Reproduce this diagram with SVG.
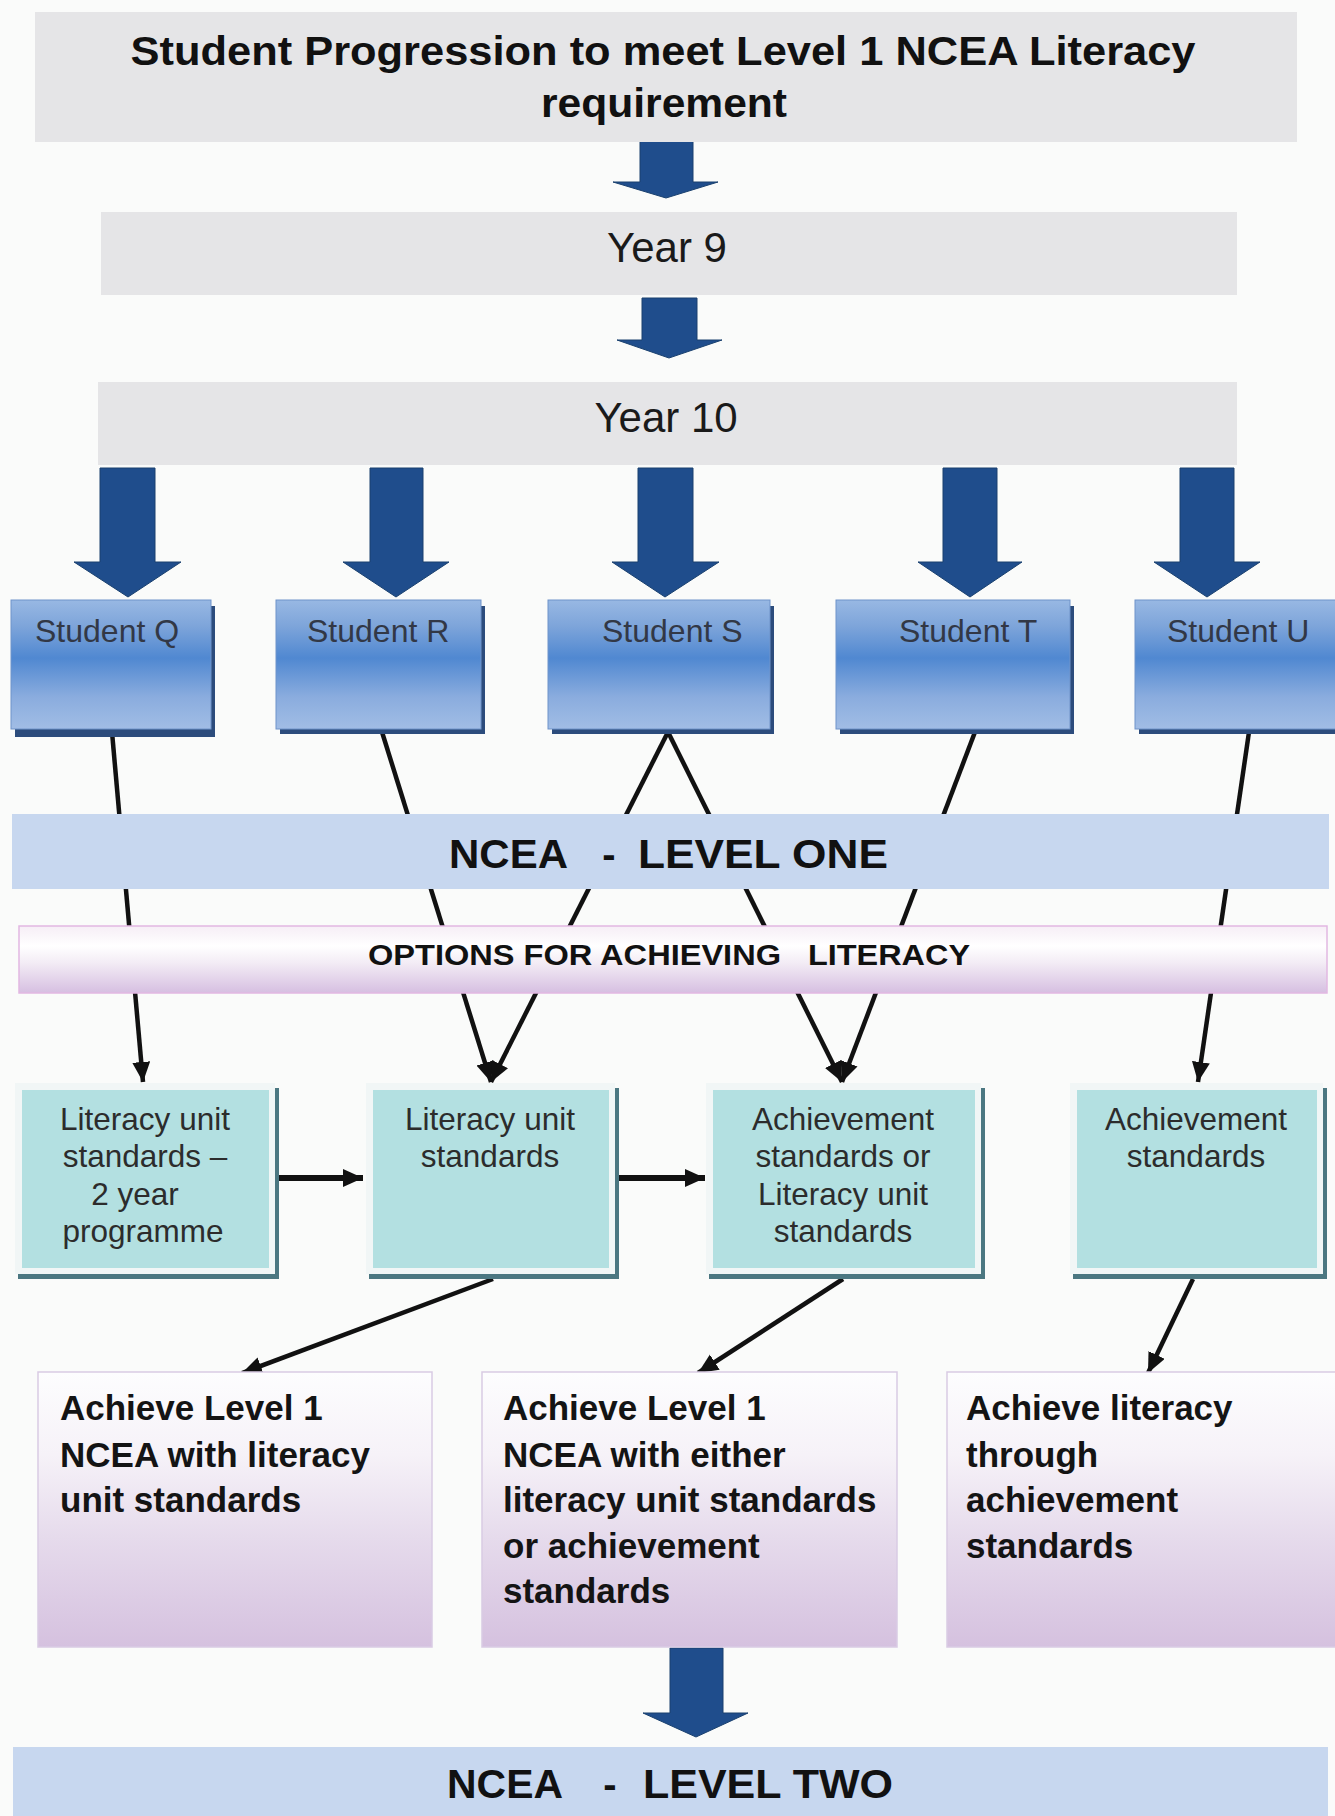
<svg xmlns="http://www.w3.org/2000/svg" width="1335" height="1816" viewBox="0 0 1335 1816">
  <style>
    .sans { font-family: "Liberation Sans", Arial, sans-serif; }
    .head { font-weight: bold; font-size: 40px; fill: #111; }
    .year { font-size: 42px; fill: #1a1a1a; }
    .stud { font-size: 32px; fill: #323846; }
    .band { font-weight: bold; font-size: 40px; fill: #111; }
    .opt { font-weight: bold; font-size: 29px; fill: #111; }
    .std { font-size: 31.5px; fill: #2c2c2c; text-anchor: middle; }
    .res { font-weight: bold; font-size: 35px; fill: #141414; }
    .grey { fill: #e5e5e7; }
    .big { fill: #1f4d8c; stroke: #1a416f; stroke-width: 1; }
    .link { fill: none; stroke: #111; stroke-width: 4.5; marker-end: url(#tip); }
    .link-h { fill: none; stroke: #111; stroke-width: 6; marker-end: url(#tip); }
    .lvl { fill: #c7d7ef; }
    .teal-shadow { fill: #4b7781; }
    .teal-frame { fill: #f1f6f6; }
    .teal { fill: #b3e0e1; }
    .stud-shadow { fill: #2c4c7c; }
    .stud-box { fill: url(#studGrad); stroke: #6f93c9; stroke-width: 1; }
    .res-box { fill: url(#resGrad); stroke: #d9cbe4; stroke-width: 1.5; }
  </style>
  <defs>
    <linearGradient id="studGrad" x1="0" y1="0" x2="0" y2="1">
      <stop offset="0" stop-color="#98b8e3"/>
      <stop offset="0.2" stop-color="#7ea5da"/>
      <stop offset="0.45" stop-color="#5088d1"/>
      <stop offset="0.75" stop-color="#8aacde"/>
      <stop offset="1" stop-color="#a1bde5"/>
    </linearGradient>
    <linearGradient id="optGrad" x1="0" y1="0" x2="0" y2="1">
      <stop offset="0" stop-color="#f6eef6"/>
      <stop offset="0.3" stop-color="#ffffff"/>
      <stop offset="0.55" stop-color="#f3ecf5"/>
      <stop offset="1" stop-color="#d6bfe1"/>
    </linearGradient>
    <linearGradient id="resGrad" x1="0" y1="0" x2="0" y2="1">
      <stop offset="0" stop-color="#fdfdfe"/>
      <stop offset="0.3" stop-color="#f6f2f8"/>
      <stop offset="0.6" stop-color="#e6dbec"/>
      <stop offset="1" stop-color="#d5c1df"/>
    </linearGradient>
    <marker id="tip" markerUnits="userSpaceOnUse" markerWidth="22" markerHeight="20" refX="20" refY="9" orient="auto">
      <path d="M0,0 L20,9 L0,18 Z" fill="#111"/>
    </marker>
  </defs>

  <rect width="1335" height="1816" fill="#fafbfa"/>

  <!-- connectors: block arrows and line arrows -->
  <g id="connectors">
    <path class="big" d="M640,140 H693 V182 H718 L666,198 L613,182 H640 Z"/>
    <path class="big" d="M642,298 H697 V340 H722 L669,358 L617,340 H642 Z"/>
    <path class="big" d="M100,468 H155 V562 H181 L128,597 L74,562 H100 Z"/>
    <path class="big" d="M370,468 H423 V562 H449 L396,597 L343,562 H370 Z"/>
    <path class="big" d="M638,468 H693 V562 H719 L665,597 L612,562 H638 Z"/>
    <path class="big" d="M943,468 H997 V562 H1022 L970,597 L918,562 H943 Z"/>
    <path class="big" d="M1180,468 H1234 V562 H1260 L1207,597 L1154,562 H1180 Z"/>
    <path class="big" d="M670,1648 H723 V1713 H748 L696,1737 L643,1713 H670 Z"/>

    <line class="link" x1="112" y1="732" x2="143" y2="1082"/>
    <line class="link" x1="382" y1="732" x2="491" y2="1082"/>
    <line class="link" x1="668" y1="732" x2="491" y2="1082"/>
    <line class="link" x1="668" y1="732" x2="842" y2="1082"/>
    <line class="link" x1="975" y1="732" x2="842" y2="1082"/>
    <line class="link" x1="1249" y1="732" x2="1198" y2="1082"/>

    <line class="link-h" x1="279" y1="1178" x2="363" y2="1178"/>
    <line class="link-h" x1="619" y1="1178" x2="705" y2="1178"/>

    <line class="link" x1="493" y1="1279" x2="242" y2="1373"/>
    <line class="link" x1="843" y1="1279" x2="698" y2="1373"/>
    <line class="link" x1="1193" y1="1279" x2="1148" y2="1373"/>
  </g>

  <!-- header and year bands -->
  <g id="title">
    <rect class="grey" x="35" y="12" width="1262" height="130"/>
    <text class="sans head" x="663" y="65" text-anchor="middle" textLength="1065" lengthAdjust="spacingAndGlyphs">Student Progression to meet Level 1 NCEA Literacy</text>
    <text class="sans head" x="664" y="117" text-anchor="middle" textLength="246" lengthAdjust="spacingAndGlyphs">requirement</text>
  </g>
  <g id="year9">
    <rect class="grey" x="101" y="212" width="1136" height="83"/>
    <text class="sans year" x="667" y="262" text-anchor="middle">Year 9</text>
  </g>
  <g id="year10">
    <rect class="grey" x="98" y="382" width="1139" height="83"/>
    <text class="sans year" x="666" y="432" text-anchor="middle">Year 10</text>
  </g>

  <!-- students -->
  <g id="student-q">
    <rect class="stud-shadow" x="15" y="606" width="200" height="131"/>
    <rect class="stud-box" x="11" y="600" width="200" height="129"/>
    <text class="sans stud" x="35" y="642">Student Q</text>
  </g>
  <g id="student-r">
    <rect class="stud-shadow" x="280" y="606" width="205" height="128"/>
    <rect class="stud-box" x="276" y="600" width="205" height="129"/>
    <text class="sans stud" x="307" y="642">Student R</text>
  </g>
  <g id="student-s">
    <rect class="stud-shadow" x="552" y="606" width="222" height="128"/>
    <rect class="stud-box" x="548" y="600" width="222" height="129"/>
    <text class="sans stud" x="602" y="642">Student S</text>
  </g>
  <g id="student-t">
    <rect class="stud-shadow" x="840" y="606" width="234" height="128"/>
    <rect class="stud-box" x="836" y="600" width="234" height="129"/>
    <text class="sans stud" x="899" y="642">Student T</text>
  </g>
  <g id="student-u">
    <rect class="stud-shadow" x="1139" y="606" width="200" height="128"/>
    <rect class="stud-box" x="1135" y="600" width="202" height="129"/>
    <text class="sans stud" x="1167" y="642">Student U</text>
  </g>

  <!-- NCEA level one band -->
  <g id="level-one">
    <rect class="lvl" x="12" y="814" width="1317" height="75"/>
    <text class="sans band" x="449" y="868" textLength="119" lengthAdjust="spacingAndGlyphs">NCEA</text>
    <text class="sans band" x="609" y="868" text-anchor="middle">-</text>
    <text class="sans band" x="638" y="868" textLength="250" lengthAdjust="spacingAndGlyphs">LEVEL ONE</text>
  </g>

  <!-- options band -->
  <g id="options">
    <rect x="19" y="926" width="1308" height="67" fill="url(#optGrad)" stroke="#e2b8e2" stroke-width="1.5"/>
    <text class="sans opt" x="368" y="965" textLength="413" lengthAdjust="spacingAndGlyphs">OPTIONS FOR ACHIEVING</text>
    <text class="sans opt" x="808" y="965" textLength="162" lengthAdjust="spacingAndGlyphs">LITERACY</text>
  </g>

  <!-- standards options -->
  <g id="lit-2yr">
    <rect class="teal-shadow" x="18" y="1088" width="261" height="191"/>
    <rect class="teal-frame" x="15" y="1083" width="260" height="191"/>
    <rect class="teal" x="22" y="1090" width="247" height="178"/>
    <text class="sans std" x="145" y="1130">Literacy unit</text>
    <text class="sans std" x="145" y="1167">standards –</text>
    <text class="sans std" x="135" y="1205">2 year</text>
    <text class="sans std" x="143" y="1242">programme</text>
  </g>
  <g id="lit-us">
    <rect class="teal-shadow" x="369" y="1088" width="250" height="191"/>
    <rect class="teal-frame" x="366" y="1083" width="249" height="191"/>
    <rect class="teal" x="373" y="1090" width="236" height="178"/>
    <text class="sans std" x="490" y="1130">Literacy unit</text>
    <text class="sans std" x="490" y="1167">standards</text>
  </g>
  <g id="ach-or-lit">
    <rect class="teal-shadow" x="709" y="1088" width="276" height="191"/>
    <rect class="teal-frame" x="706" y="1083" width="275" height="191"/>
    <rect class="teal" x="713" y="1090" width="262" height="178"/>
    <text class="sans std" x="843" y="1130">Achievement</text>
    <text class="sans std" x="843" y="1167">standards or</text>
    <text class="sans std" x="843" y="1205">Literacy unit</text>
    <text class="sans std" x="843" y="1242">standards</text>
  </g>
  <g id="ach">
    <rect class="teal-shadow" x="1073" y="1088" width="254" height="191"/>
    <rect class="teal-frame" x="1070" y="1083" width="253" height="191"/>
    <rect class="teal" x="1077" y="1090" width="240" height="178"/>
    <text class="sans std" x="1196" y="1130">Achievement</text>
    <text class="sans std" x="1196" y="1167">standards</text>
  </g>

  <!-- outcomes -->
  <g id="outcome-lit">
    <rect class="res-box" x="38" y="1372" width="394" height="275"/>
    <text class="sans res" x="60" y="1420">Achieve Level 1</text>
    <text class="sans res" x="60" y="1467">NCEA with literacy</text>
    <text class="sans res" x="60" y="1512">unit standards</text>
  </g>
  <g id="outcome-either">
    <rect class="res-box" x="482" y="1372" width="415" height="275"/>
    <text class="sans res" x="503" y="1420">Achieve Level 1</text>
    <text class="sans res" x="503" y="1467">NCEA with either</text>
    <text class="sans res" x="503" y="1512">literacy unit standards</text>
    <text class="sans res" x="503" y="1558">or achievement</text>
    <text class="sans res" x="503" y="1603">standards</text>
  </g>
  <g id="outcome-ach">
    <rect class="res-box" x="947" y="1372" width="390" height="275"/>
    <text class="sans res" x="966" y="1420">Achieve literacy</text>
    <text class="sans res" x="966" y="1467">through</text>
    <text class="sans res" x="966" y="1512">achievement</text>
    <text class="sans res" x="966" y="1558">standards</text>
  </g>

  <!-- NCEA level two band -->
  <g id="level-two">
    <rect class="lvl" x="13" y="1747" width="1315" height="69"/>
    <text class="sans band" x="447" y="1798" font-size="38" textLength="116" lengthAdjust="spacingAndGlyphs">NCEA</text>
    <text class="sans band" x="610" y="1798" font-size="38" text-anchor="middle">-</text>
    <text class="sans band" x="643" y="1798" font-size="38" textLength="250" lengthAdjust="spacingAndGlyphs">LEVEL TWO</text>
  </g>
</svg>
